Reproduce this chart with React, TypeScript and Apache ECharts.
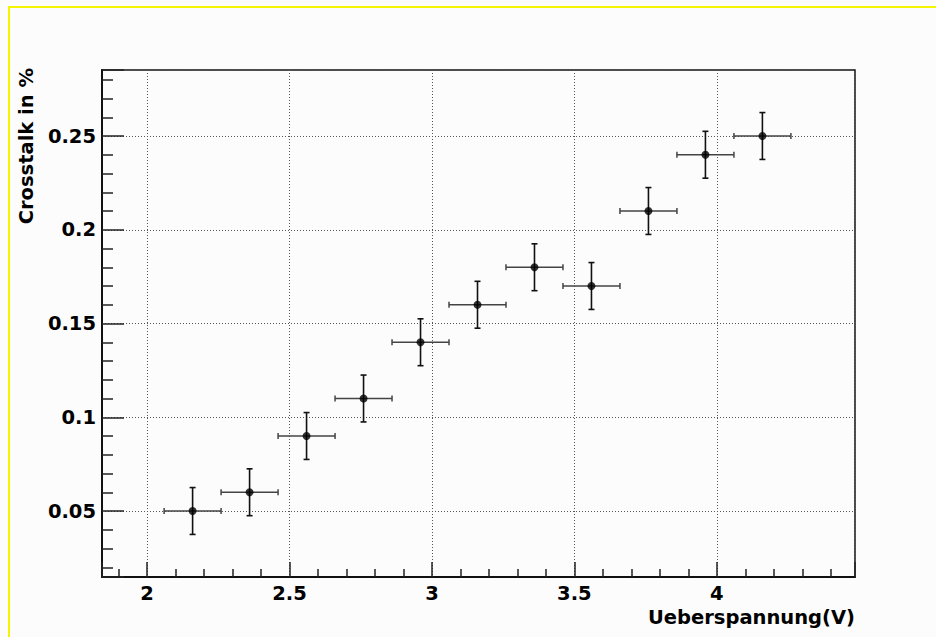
import React, { useEffect, useRef } from "react";
import * as echarts from "echarts";

const xValues = [2.16, 2.36, 2.56, 2.76, 2.96, 3.16, 3.36, 3.56, 3.76, 3.96, 4.16];
const yValues = [0.05, 0.06, 0.09, 0.11, 0.14, 0.16, 0.18, 0.17, 0.21, 0.24, 0.25];
const xErrors = [0.1, 0.1, 0.1, 0.1, 0.1, 0.1, 0.1, 0.1, 0.1, 0.1, 0.1];
const yErrors = [0.0125, 0.0125, 0.0125, 0.0125, 0.0125, 0.0125, 0.0125, 0.0125, 0.0125, 0.0125, 0.0125];
const xAxisTitle = "Ueberspannung(V)";
const yAxisTitle = "Crosstalk in %";
const xRange = [1.842, 4.485];
const yRange = [0.0148, 0.2852];

const FONT = "'DejaVu Sans', 'Liberation Sans', Arial, sans-serif";

export default function App() {
  const ref = useRef<HTMLDivElement>(null);

  useEffect(() => {
    if (!ref.current) return;
    const chart = echarts.init(ref.current, null, { renderer: "svg" });
    const points = xValues.map((x, i) => [x, yValues[i], xErrors[i], yErrors[i]]);
    const fmt = (v: number) => String(Math.round(v * 10000) / 10000);

    const option: any = {
      animation: false,
      backgroundColor: "#fcfcfc",
      grid: {
        left: 102,
        right: 81,
        top: 70,
        bottom: 60,
        show: true,
        borderColor: "#111",
        borderWidth: 1.5,
        backgroundColor: "transparent",
      },
      xAxis: {
        type: "value",
        min: xRange[0],
        max: xRange[1],
        splitNumber: 5,
        axisLine: { show: true, lineStyle: { color: "#111", width: 2 } },
        axisTick: { show: true, inside: true, length: 15, lineStyle: { color: "#222", width: 1.5 } },
        minorTick: { show: true, splitNumber: 5, length: 8, lineStyle: { color: "#222", width: 1.5 } },
        axisLabel: {
          show: true,
          margin: 6,
          fontSize: 19.5,
          fontWeight: "bold",
          fontFamily: FONT,
          color: "#000",
          showMinLabel: false,
          showMaxLabel: false,
          formatter: fmt,
        },
        splitLine: { show: true, lineStyle: { color: "#555", width: 1, type: [1, 2] } },
      },
      yAxis: {
        type: "value",
        min: yRange[0],
        max: yRange[1],
        splitNumber: 5,
        axisLine: { show: true, lineStyle: { color: "#111", width: 2 } },
        axisTick: { show: true, inside: true, length: 22, lineStyle: { color: "#222", width: 1.5 } },
        minorTick: { show: true, splitNumber: 5, length: 11, lineStyle: { color: "#222", width: 1.5 } },
        axisLabel: {
          show: true,
          margin: 6,
          fontSize: 19.5,
          fontWeight: "bold",
          fontFamily: FONT,
          color: "#000",
          showMinLabel: false,
          showMaxLabel: false,
          formatter: fmt,
        },
        splitLine: { show: true, lineStyle: { color: "#555", width: 1, type: [1, 2] } },
      },
      series: [
        {
          type: "custom",
          data: points,
          encode: { x: 0, y: 1 },
          z: 3,
          renderItem: (params: any, api: any) => {
            const x = api.value(0);
            const y = api.value(1);
            const ex = api.value(2);
            const ey = api.value(3);
            const l = api.coord([x - ex, y]);
            const r = api.coord([x + ex, y]);
            const t = api.coord([x, y + ey]);
            const b = api.coord([x, y - ey]);
            const cap = 3;
            const hStyle = { stroke: "#444", lineWidth: 1.5 };
            const vStyle = { stroke: "#111", lineWidth: 1.6 };
            return {
              type: "group",
              children: [
                { type: "line", shape: { x1: l[0], y1: l[1], x2: r[0], y2: r[1] }, style: hStyle },
                { type: "line", shape: { x1: l[0], y1: l[1] - cap, x2: l[0], y2: l[1] + cap }, style: hStyle },
                { type: "line", shape: { x1: r[0], y1: r[1] - cap, x2: r[0], y2: r[1] + cap }, style: hStyle },
                { type: "line", shape: { x1: t[0], y1: t[1], x2: b[0], y2: b[1] }, style: vStyle },
                { type: "line", shape: { x1: t[0] - cap, y1: t[1], x2: t[0] + cap, y2: t[1] }, style: vStyle },
                { type: "line", shape: { x1: b[0] - cap, y1: b[1], x2: b[0] + cap, y2: b[1] }, style: vStyle },
              ],
            };
          },
        },
        {
          type: "scatter",
          data: points.map((p) => [p[0], p[1]]),
          symbol: "circle",
          symbolSize: 8,
          itemStyle: { color: "#000" },
          z: 4,
        },
      ],
      graphic: [
        {
          type: "line",
          shape: { x1: 8, y1: 7, x2: 936, y2: 7 },
          style: { stroke: "#f5f500", lineWidth: 2 },
          z: 10,
        },
        {
          type: "line",
          shape: { x1: 9, y1: 6, x2: 9, y2: 637 },
          style: { stroke: "#f5f500", lineWidth: 2 },
          z: 10,
        },
        {
          type: "text",
          x: 855,
          y: 627,
          style: {
            text: xAxisTitle,
            align: "right",
            verticalAlign: "bottom",
            fontSize: 19.5,
            fontWeight: "bold",
            fontFamily: FONT,
            fill: "#000",
          },
        },
        {
          type: "text",
          x: 26,
          y: 68,
          rotation: Math.PI / 2,
          style: {
            text: yAxisTitle,
            align: "right",
            verticalAlign: "middle",
            fontSize: 19.5,
            fontWeight: "bold",
            fontFamily: FONT,
            fill: "#000",
          },
        },
      ],
    };

    chart.setOption(option);
    return () => chart.dispose();
  }, []);

  return (
    <div
      ref={ref}
      style={{ position: "fixed", left: 0, top: 0, width: 936, height: 637 }}
    />
  );
}
